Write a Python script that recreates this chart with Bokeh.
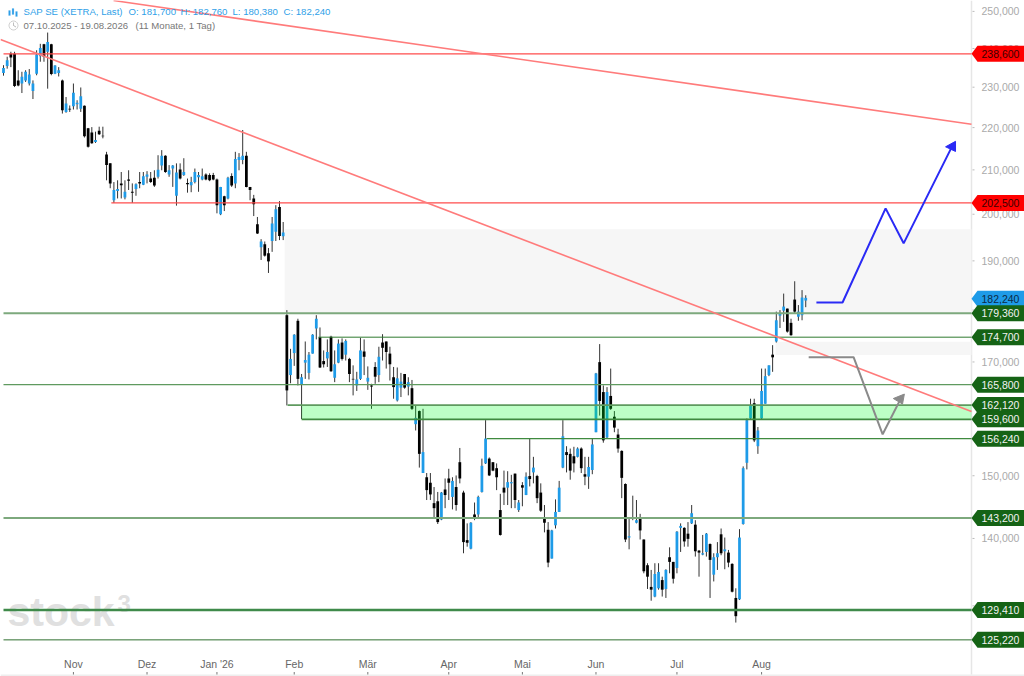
import math
from bokeh.embed import file_html
from bokeh.resources import INLINE
from bokeh.plotting import figure
from bokeh.models import ColumnDataSource, FixedTicker, Label, PolyAnnotation, Range1d

high = [235.4,237.6,238.9,238.9,234.1,233.7,234.1,234.4,231.5,239.3,
241,241,244,241,235.4,234.9,231.7,227.3,225.2,230.7,
226.5,229.7,225.2,219.7,219.9,218.8,220,220,214,211.3,
207,207.4,209.3,207.4,209.7,206.7,206.7,209.3,209.3,209.5,
209.3,209.7,213.2,214.4,213.2,210.9,210.9,211.3,211.3,212.5,
207.8,208.2,210.1,209.3,210.1,209,209,209.1,207.8,205.9,
203.9,208.2,209,214,213.7,219.2,214,205.9,204.1,199.2,
194.4,193.9,192.5,199.2,201.8,202.7,198.1,
179.8,172.3,175.1,
178.1,167.6,173.7,171.7,175.1,178.8,176.4,172,174.1,174.8,
172,174.1,174.3,174.1,170.6,169.2,168,174.4,174.1,169,
165.8,169.8,172.7,175.1,173.7,172.7,168.9,168.8,167.8,167.6,
167,166.5,161.9,161,161.3,150.3,150.3,148,147.2,147.2,
149.4,151,149.6,149.9,154.5,147.4,142.2,142.4,145.5,146.6,
152.7,159.3,152.9,152.1,151.9,146.9,150.7,150.6,150,150.2,
145.9,148.8,150.4,156.2,153,150,148.6,145.1,142.4,141.2,
146,149,159.3,154.8,154.4,154.7,154.6,154.6,153,153,
156.1,167.8,173.2,165.5,165.2,168.6,160.9,157.8,154.1,148.6,
143,146.6,145.9,143.7,139.7,136.1,135.1,136.1,136.1,134.1,
135.2,138.5,136.3,141,142.2,141.6,142.4,145.1,142.7,138.1,
140.4,140.7,139.1,137.6,139.3,141.4,140,138.1,136.1,132.4,
141.3,151.4,159.6,163.1,163.1,158.1,168.6,168.6,169.2,173,
179.5,179.8,183.1,180.1,178.1,185.6,180.8,183.8,182.76]

body_top = [234.7,236.7,238.4,238.4,231.5,232.4,233.7,233,230.7,238.2,
239.9,240.9,241.5,240.9,235.3,234.1,231.5,225.7,224.4,228.4,
225.9,227.5,225.1,219.6,218.6,216.8,219,217.8,213.4,211.3,
205.2,205.4,206.7,204.8,207.6,204.8,206.5,207,208.3,208.7,
207.8,208,209.8,213.1,213.1,209.7,210.8,209.2,209.9,209.3,
206.8,207,209.3,208.6,208.3,208.7,208.6,208.6,207.6,205.9,
203.8,208,208.4,212.3,212.8,213.1,213.1,205.9,203.3,197.6,
193.9,193.3,191.4,197.8,200.9,201.4,195.8,
178.8,170.4,175,
177.7,167,170.2,171.2,175,178.1,174.5,170,171.7,174.6,
169.4,173.3,173.5,173.8,170.4,166.7,166.6,172,171.8,166.9,
165.5,168.9,170.8,173.5,173.7,171.4,167,166.8,166.2,167.6,
166.1,165,159.7,160.9,153.8,149.6,148.7,145.4,145.7,147.1,
147.6,149.4,149,148,152.1,147.1,139.6,142.3,143.6,146.4,
151.5,156.1,152.7,152.1,151.1,144.3,147.9,148.8,148.8,150.2,
145.5,148.3,149.7,149.8,151.2,149.8,147.1,143,141.2,141.1,
144,147.9,156.5,153.8,153.5,153.1,154.4,154.4,150.1,151.3,
155.1,167.7,169.8,164.3,164.3,163.6,159.9,156.8,154,148.5,
140.2,143.1,142.7,143.1,139.7,135.8,132.6,134.5,134.8,133.6,
135.1,137,136.3,140.9,141.8,141.5,140.6,143.8,142,138,
137.6,140.6,139,137,137.6,140.5,138.2,137.7,136,131,
140,151.1,159.3,161.9,162.3,157.5,164.5,167.2,169.2,171.2,
177.8,179.1,180.5,180.1,177.3,181.9,179.5,182.3,182.24]

body_bottom = [233.4,235.2,237.4,230.1,230.2,230.7,231.5,230.7,228.8,233.2,
237.7,237.6,238.9,233.1,233.2,233.4,224,223.6,224.2,225,
225.5,224.4,217.7,215.2,216,216.3,218.2,217.7,210.9,206.7,
202.9,205,206.3,203.5,207.3,204.6,205.4,206.7,206.4,208.2,
207,206.2,208.2,210.8,209.3,208.7,210.1,203.9,207.8,208.6,
206.5,206.3,207,208.1,207.6,207.6,207.4,207.6,201.8,199.8,
201.8,203.3,206.2,206.7,212.1,212.1,205.9,205.2,202,195.6,
192.7,190.9,189.7,194,196,195.1,195,
164.6,167.4,171.5,
166.7,165.7,169.7,167.8,171.4,176.2,168.8,169.4,170.5,168.1,
166.9,169.7,170.4,171.2,167.6,166.6,165.5,166.7,170.8,166.2,
165.3,167.1,167.4,172.5,171.7,169.4,165.2,162.8,165.1,165.1,
165.3,161.3,158.6,153.5,150.3,147.5,146.8,144.6,142.4,142.8,
146.7,148.7,146.4,145.1,149.4,139.3,139.2,138.3,143.2,143.6,
147.2,151.9,149.9,150.7,149.6,140.4,147.1,147.9,148.6,145.9,
144.3,147.9,146.7,149.3,150.4,146.2,144.2,142.3,136.2,136.8,
141.9,144,151.2,153.3,150.7,151.9,153,151.1,149.7,149.7,
150.8,157.2,162.7,155.8,156.3,161.3,158,154.4,149.5,139.7,
140,142.9,142.3,141.1,134.9,134.1,132.2,131.2,132.4,132.2,
132.3,136.3,133.8,135.4,141.5,139.4,139.8,142.2,137.9,137.7,
137.4,137.8,136.6,134.4,137,137.6,137.9,136.2,131.9,128.4,
130.8,142.1,152,159.6,155.8,154.8,159.6,162.2,167.4,170.7,
173.7,178.7,179.7,175.6,174.9,179.5,178.5,178.8,181.7]

low = [232.7,234.5,234.9,229.8,230,228.3,231.1,230.2,226.8,232.8,
236.3,236.3,229.4,232.8,233.1,232.5,223.2,223.4,223.6,224.2,
224.2,223.6,217.4,215,215.9,216.1,218,217.2,207.4,205.6,
202.3,203.3,203.3,203.1,205.2,202.3,203.9,205.6,206.3,206.7,
206.8,205.9,207.8,209.7,209.1,208.2,205.9,201.7,207.6,208.4,
204.6,204.7,206.7,204.8,207.4,207.4,207.2,207.4,200,199.6,
200.5,203.1,205.9,205.6,209.7,211.1,205.8,202.9,199.4,195.5,
190,190.7,187.3,191.7,194,194.2,194.2,
161.9,165.9,169.1,
165.5,159.5,166.7,166.6,171.4,174.1,168.7,168.8,168.9,168,
166.1,169.6,170.1,170.1,166.1,163.7,164.5,166.5,167.4,164.7,
161.3,165.8,166.1,170.1,168.6,166.4,163.1,162.6,163.4,164.9,
163.7,161.1,157.5,151.2,150.3,145.9,145.9,143.2,142.1,142.7,
144.6,145.9,144.4,144.2,148.6,137.6,138.6,138.2,142.7,142.9,
147.1,151.8,149.8,150.6,147.5,140.3,145.1,145.1,144.6,144.6,
144,144.9,146.7,148.1,148.6,145.4,144,140.8,135.5,136.8,
141.4,144,151.1,150.4,149.2,150.4,152.9,150.3,148.3,147.7,
150.1,157.2,160.1,155.4,156.2,161.1,157.2,153.7,146.2,139.3,
138.2,142.7,142.2,139.7,134.6,132.3,130.6,131.1,132.2,131.2,
131,134.6,133.1,134.6,137.8,138.6,138.6,142.1,137.1,134.1,
137.3,137.1,131,133.4,135.1,137.3,135.2,135.5,131.8,127.5,
130.7,142,150.9,159.5,155.5,153.5,159.5,162.2,167.2,168,
173.5,176.3,177.5,175.4,174.8,179.1,177.7,177.8,180.38]

rising_bars = {0,1,5,6,7,8,9,10,12,14,15,17,19,20,21,25,30,31,33,36,38,39,42,43,45,46,47,49,
51,52,53,54,59,61,63,64,65,70,73,74,76,78,79,81,82,83,84,85,88,90,91,93,96,97,99,102,107,108,
110,112,114,119,122,127,129,130,131,137,138,140,142,144,149,150,151,152,156,159,160,161,164,
170,171,172,177,178,180,183,184,187,190,191,193,194,196,200,201,202,203,205,206,207,208,210,
211,212,216,217,218}

n_bars = len(high)
assert n_bars == len(low) == len(body_top) == len(body_bottom)

month_bars = [19, 39, 58, 79, 99, 121, 141, 161, 183, 206]
month_labels = ["Nov", "Dez", "Jan '26", "Feb", "Mär", "Apr", "Mai", "Jun", "Jul", "Aug"]
price_ticks = [130, 140, 150, 160, 170, 180, 190, 200, 210, 220, 230, 240, 250]
price_tick_labels = ["130,000", "140,000", "150,000", "160,000", "170,000", "180,000", "190,000",
                     "200,000", "210,000", "220,000", "230,000", "240,000", "250,000"]

red_levels = [238.6, 202.5]
red_start = [0, 29.3]
green_levels = [179.36, 174.7, 165.8, 162.12, 159.6, 156.24, 143.2, 129.41, 125.22]
green_start = [0, 85.6, 0, 77.2, 81, 131.3, 0, 0, 0]
green_width = [2, 1, 1.3, 1.6, 1.6, 1.3, 2, 2.4, 1]
green_color = ["#7da97d", "#2f7a2f", "#5f9a5f", "#5f9a5f", "#3f8a3f", "#3f8a3f", "#7da97d", "#3f8a4a", "#2f6f2f"]

trend_a_bar = [-0.82, 263.04]
trend_a_price = [242.4, 161.0]
trend_b_bar = [29.9, 263.04]
trend_b_price = [253.0, 220.8]

blue_path_bar = [220.9, 228, 239.7, 244.6, 257.6]
blue_path_price = [181.5, 181.5, 201.3, 193.7, 215.2]
blue_head_bar = [258.7, 256, 258.7]
blue_head_price = [216.7, 215.4, 214.3]
grey_path_bar = [218.8, 231, 238.9, 244]
grey_path_price = [170.9, 170.9, 157.0, 163.5]
grey_head_bar = [244.8, 241.8, 244.3]
grey_head_price = [164.1, 163.3, 162.3]

gap_left = [76.4, 209.8]
gap_right = [263.04, 263.04]
gap_top = [196.7, 173.8]
gap_bottom = [179.36, 171.3]

tag_prices = [238.6, 202.5, 182.24, 179.36, 174.7, 165.8, 162.12, 159.6, 156.24, 143.2, 129.41, 125.22]
tag_labels = ["238,600", "202,500", "182,240", "179,360", "174,700", "165,800", "162,120", "159,600",
              "156,240", "143,200", "129,410", "125,220"]
tag_fill = ["#ff0000", "#ff0000", "#1e9be8"] + ["#156315"] * 9
tag_text = ["#3a0000", "#3a0000", "#0c2a44"] + ["#f2f2f2"] * 9

W, H, PLOT_R = 1024, 676, 971
FRAME_H = H
PX_PER_BAR, BAR0 = 3.68, 3
PX_PER_LN, TOP_PRICE, TOP_Y = 909, 250, 10.9
# candle prices were read about 0.1 % low against the calibrated price scale
READ_CAL = 1.001
high = [v * READ_CAL for v in high]
low = [v * READ_CAL for v in low]
body_top = [v * READ_CAL for v in body_top]
body_bottom = [v * READ_CAL for v in body_bottom]

x0 = (0 - BAR0) / PX_PER_BAR
x_end = (PLOT_R - BAR0) / PX_PER_BAR
x_full = (W - BAR0) / PX_PER_BAR
def price_at(y_px):
    return TOP_PRICE * math.exp((TOP_Y - y_px) / PX_PER_LN)
y_hi = price_at(0)
y_lo = price_at(FRAME_H)
FONT = "Liberation Sans"

p = figure(width=W, height=H, output_backend="svg", toolbar_location=None,
           y_axis_type="log", y_axis_location="right",
           x_range=Range1d(x0, x_full), y_range=Range1d(y_lo, y_hi),
           min_border_left=0, min_border_top=0, min_border_right=0, min_border_bottom=0,
           outline_line_color=None, background_fill_color="white", border_fill_color="white",
           margin=(0, 0, 0, 0))
p.frame_width = W
p.frame_height = FRAME_H
p.grid.visible = False

ya = p.yaxis[0]
ya.ticker = FixedTicker(ticks=price_ticks)
ya.major_label_overrides = {t: s for t, s in zip(price_ticks, price_tick_labels)}
ya.minor_tick_line_color = None
ya.major_tick_line_color = None
ya.major_tick_in = 0
ya.major_tick_out = 0
ya.axis_line_color = None
ya.major_label_standoff = -43
ya.major_label_text_font = FONT
ya.major_label_text_font_size = "10.5px"
ya.major_label_text_color = "#aaaaaa"

xa = p.xaxis[0]
xa.ticker = FixedTicker(ticks=month_bars)
xa.major_label_overrides = {t: s for t, s in zip(month_bars, month_labels)}
xa.minor_tick_line_color = None
xa.major_tick_line_color = None
xa.axis_line_color = None
xa.major_tick_in = 0
xa.major_tick_out = 0
xa.major_label_standoff = -19
xa.major_label_text_font = FONT
xa.major_label_text_font_size = "10.5px"
xa.major_label_text_color = "#666666"

# footer strip, time ticks, price scale rule and its ticks
p.quad(left=[x0], right=[x_full], top=[price_at(674)], bottom=[y_lo], fill_color="#eeeeee", line_color=None)
p.segment(x0=month_bars, x1=month_bars, y0=[price_at(671.5)] * len(month_bars), y1=[price_at(674)] * len(month_bars),
          line_color="#777777", line_width=1)
tick_len = 3 / PX_PER_BAR
p.segment(x0=[x_end], x1=[x_end], y0=[price_at(674)], y1=[y_hi], line_color="#e6e6e6", line_width=1.5)
p.segment(x0=[x_end + tick_len / 3] * len(price_ticks), x1=[x_end + tick_len] * len(price_ticks),
          y0=price_ticks, y1=price_ticks, line_color="#bbbbbb", line_width=1)

# watermark
p.add_layout(Label(x=7, y=FRAME_H - 627 + 16, x_units="screen", y_units="screen", text="stock",
                   text_font=FONT, text_font_size="41px", text_font_style="bold", text_color="#e0e0e0",
                   text_baseline="alphabetic", level="underlay"))
p.add_layout(Label(x=117, y=FRAME_H - 613 + 10, x_units="screen", y_units="screen", text="3",
                   text_font=FONT, text_font_size="24px", text_font_style="bold", text_color="#e0e0e0",
                   text_baseline="alphabetic", level="underlay"))

# grey gaps
p.quad(left=gap_left, right=gap_right, top=gap_top, bottom=gap_bottom,
       fill_color="#f6f6f6", line_color=None)

# candles
bars = list(range(n_bars))
colors = ["#1e9be8" if i in rising_bars else "#000000" for i in bars]
src = ColumnDataSource(dict(x=bars, high=high, low=low, top=body_top, bottom=body_bottom, color=colors))
p.segment(x0="x", x1="x", y0="high", y1="low", source=src, line_color="#333333", line_width=1)
p.vbar(x="x", width=0.75, top="top", bottom="bottom", source=src, fill_color="color", line_color=None)

# support zone
p.quad(left=[green_start[4]], right=[x_end], top=[green_levels[3]], bottom=[green_levels[4]],
       fill_color="#00ff22", fill_alpha=0.26, line_color=None)

# levels
p.multi_line(xs=[[s, x_end] for s in green_start], ys=[[v, v] for v in green_levels],
             line_color=green_color, line_width=green_width)
p.multi_line(xs=[[s, x_end] for s in red_start], ys=[[v, v] for v in red_levels],
             line_color="#ff4d4d", line_width=1.2)

# trend lines
p.line(trend_a_bar, trend_a_price, line_color="#ff7b7b", line_width=1.6)
p.line(trend_b_bar, trend_b_price, line_color="#ff7b7b", line_width=1.6)

# scenario arrows
p.line(grey_path_bar, grey_path_price, line_color="#8a8a8a", line_width=2)
p.patch(grey_head_bar, grey_head_price, fill_color="#8a8a8a", line_color="#8a8a8a")
p.line(blue_path_bar, blue_path_price, line_color="#2a2af5", line_width=2)
p.patch(blue_head_bar, blue_head_price, fill_color="#2a2af5", line_color="#2a2af5")

# right tags
half_tag = math.exp(8 / PX_PER_LN)
notch = x_end + 6 / PX_PER_BAR
for v, s, fill, tc in zip(tag_prices, tag_labels, tag_fill, tag_text):
    p.patch([x_end, notch, x_full, x_full, notch],
            [v, v * half_tag, v * half_tag, v / half_tag, v / half_tag],
            fill_color=fill, line_color=None, level="overlay")
    p.add_layout(Label(x=981, y=v, x_units="screen", y_units="data", text=s, level="overlay",
                       text_font=FONT, text_font_size="10.5px", text_color=tc, text_baseline="middle"))

# header
def header(x, y, text, color):
    p.add_layout(Label(x=x, y=FRAME_H - y, x_units="screen", y_units="screen", text=text,
                       text_font=FONT, text_font_size="9.6px", text_color=color, text_baseline="middle"))

for x, t in [(23, "SAP SE (XETRA, Last)"), (128, "O: 181,700"), (180, "H: 182,760"),
             (232, "L: 180,380"), (283, "C: 182,240")]:
    header(x, 10.5, t, "#2f9fe8")
header(23, 25, "07.10.2025 - 19.08.2026", "#777777")
header(135, 25, "(11 Monate, 1 Tag)", "#777777")

# clock icon
cx = [13 + 4.5 * math.cos(k * math.pi / 10) for k in range(20)]
cy = [FRAME_H - 25 + 4.5 * math.sin(k * math.pi / 10) for k in range(20)]
p.add_layout(PolyAnnotation(xs=cx, ys=cy, xs_units="screen", ys_units="screen",
                            fill_alpha=0, line_color="#666666", line_width=1))
p.add_layout(PolyAnnotation(xs=[13, 13, 15.5, 13], ys=[FRAME_H - 22, FRAME_H - 25, FRAME_H - 26.5, FRAME_H - 25],
                            xs_units="screen", ys_units="screen",
                            fill_alpha=0, line_color="#666666", line_width=0.8))
# candle icon
for ix, a, b in [(9, 10, 15), (12.5, 8, 14), (16, 11, 16)]:
    p.add_layout(PolyAnnotation(xs=[ix - 0.9, ix + 0.9, ix + 0.9, ix - 0.9],
                                ys=[FRAME_H - a, FRAME_H - a, FRAME_H - b, FRAME_H - b],
                                xs_units="screen", ys_units="screen",
                                fill_color="#2f9fe8", fill_alpha=1, line_color="#2f9fe8", line_width=0.5))

open("out.html", "w").write(file_html(p, INLINE))
